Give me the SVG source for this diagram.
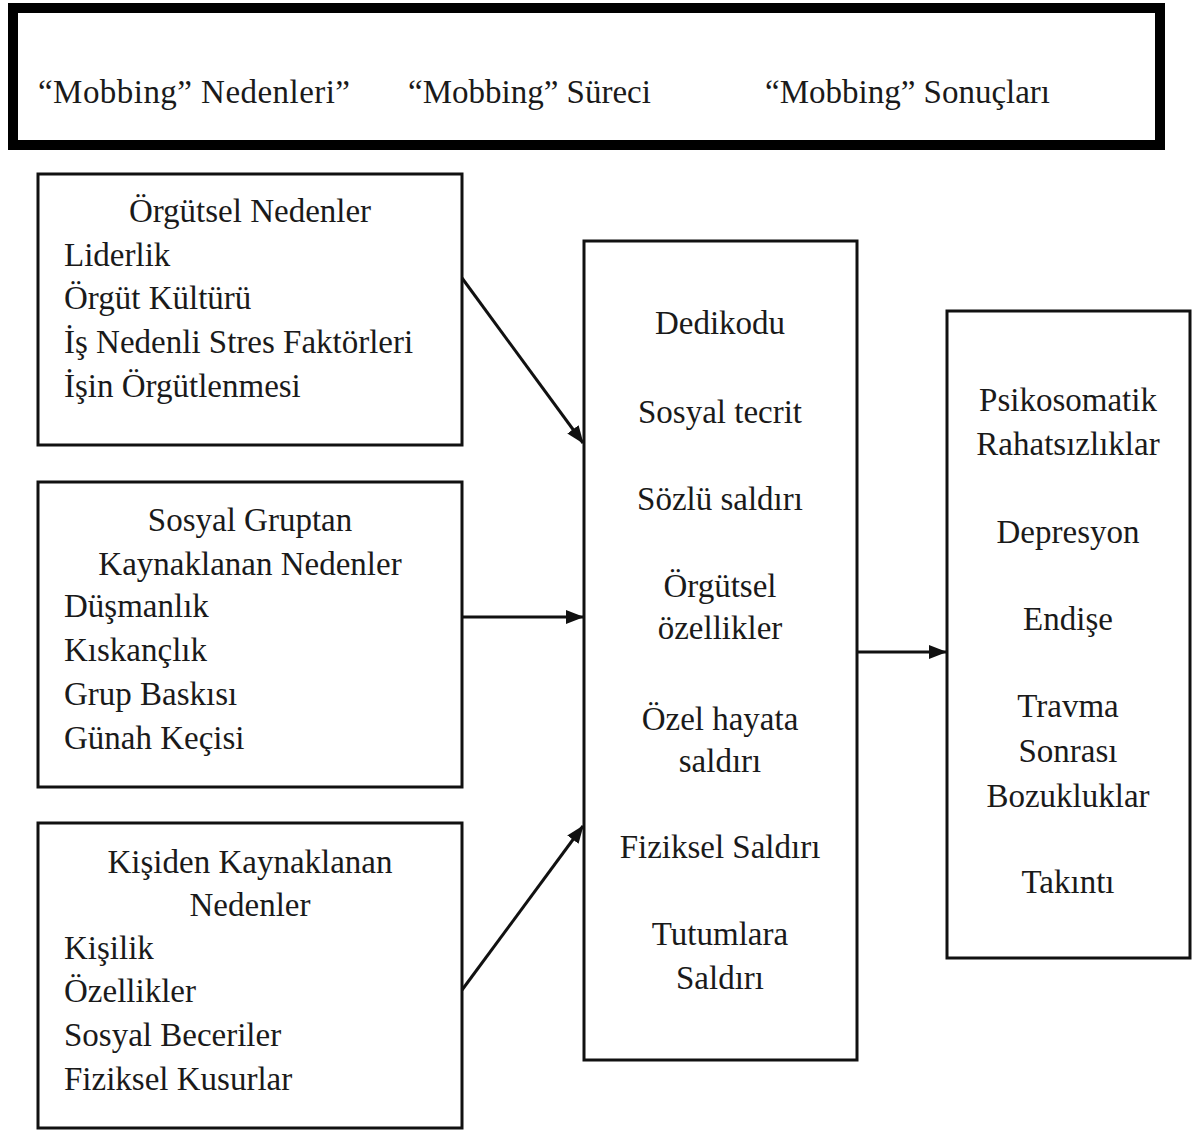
<svg xmlns="http://www.w3.org/2000/svg" width="1203" height="1131" viewBox="0 0 1203 1131">
<style>
text{font-family:"Liberation Serif","Times New Roman",serif;font-size:33px;fill:#1a1a1a}
.c{text-anchor:middle}
.box{fill:#fff;stroke:#111;stroke-width:3}
.con{stroke:#111;stroke-width:3;fill:none}
</style>
<defs>
<marker id="ah" viewBox="0 0 18 14" refX="17" refY="7" markerWidth="18" markerHeight="14" markerUnits="userSpaceOnUse" orient="auto">
<path d="M0,0 L18,7 L0,14 z" fill="#111"/>
</marker>
</defs>
<rect width="1203" height="1131" fill="#fff"/>
<g id="header">
<rect x="13" y="8" width="1147" height="137" fill="#fff" stroke="#000" stroke-width="10"/>
<text x="38" y="103" textLength="312">“Mobbing” Nedenleri”</text>
<text x="408" y="103">“Mobbing” Süreci</text>
<text x="765" y="103">“Mobbing” Sonuçları</text>
</g>
<g id="orgutsel">
<rect class="box" x="38" y="174" width="424" height="271"/>
<text class="c" x="250" y="222">Örgütsel Nedenler</text>
<text x="64" y="266">Liderlik</text>
<text x="64" y="309">Örgüt Kültürü</text>
<text x="64" y="353">İş Nedenli Stres Faktörleri</text>
<text x="64" y="397">İşin Örgütlenmesi</text>
</g>
<g id="sosyal">
<rect class="box" x="38" y="482" width="424" height="305"/>
<text class="c" x="250" y="531">Sosyal Gruptan</text>
<text class="c" x="250" y="575">Kaynaklanan Nedenler</text>
<text x="64" y="617">Düşmanlık</text>
<text x="64" y="661">Kıskançlık</text>
<text x="64" y="705">Grup Baskısı</text>
<text x="64" y="749">Günah Keçisi</text>
</g>
<g id="kisiden">
<rect class="box" x="38" y="823" width="424" height="305"/>
<text class="c" x="250" y="873">Kişiden Kaynaklanan</text>
<text class="c" x="250" y="916">Nedenler</text>
<text x="64" y="959">Kişilik</text>
<text x="64" y="1002">Özellikler</text>
<text x="64" y="1046">Sosyal Beceriler</text>
<text x="64" y="1090">Fiziksel Kusurlar</text>
</g>
<g id="surec">
<rect class="box" x="584" y="241" width="273" height="819"/>
<text class="c" x="720" y="334">Dedikodu</text>
<text class="c" x="720" y="423">Sosyal tecrit</text>
<text class="c" x="720" y="510">Sözlü saldırı</text>
<text class="c" x="720" y="597">Örgütsel</text>
<text class="c" x="720" y="639">özellikler</text>
<text class="c" x="720" y="730">Özel hayata</text>
<text class="c" x="720" y="772">saldırı</text>
<text class="c" x="720" y="858">Fiziksel Saldırı</text>
<text class="c" x="720" y="945">Tutumlara</text>
<text class="c" x="720" y="989">Saldırı</text>
</g>
<g id="sonuclar">
<rect class="box" x="947" y="311" width="243" height="647"/>
<text class="c" x="1068" y="411">Psikosomatik</text>
<text class="c" x="1068" y="455">Rahatsızlıklar</text>
<text class="c" x="1068" y="543">Depresyon</text>
<text class="c" x="1068" y="630">Endişe</text>
<text class="c" x="1068" y="717">Travma</text>
<text class="c" x="1068" y="762">Sonrası</text>
<text class="c" x="1068" y="807">Bozukluklar</text>
<text class="c" x="1068" y="893">Takıntı</text>
</g>
<g id="connectors">
<line class="con" x1="462" y1="278" x2="583" y2="443" marker-end="url(#ah)"/>
<line class="con" x1="462" y1="617" x2="583" y2="617" marker-end="url(#ah)"/>
<line class="con" x1="462" y1="990" x2="583" y2="826" marker-end="url(#ah)"/>
<line class="con" x1="857" y1="652" x2="946" y2="652" marker-end="url(#ah)"/>
</g>
</svg>
